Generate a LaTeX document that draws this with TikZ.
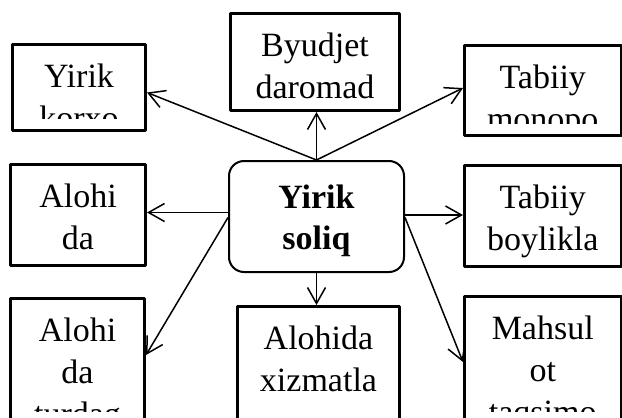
\documentclass[tikz,border=0pt]{standalone}
\usepackage{fontspec}
\setmainfont{Liberation Serif}
\usetikzlibrary{arrows.meta}
\tikzset{
	box/.style={draw, line width=3pt, inner sep=0pt},
	mainbox/.style={draw, line width=2pt, rounded corners=15pt, align=center, inner sep=0pt, font=\fontsize{34}{41}\selectfont\bfseries},
	% text that runs past the bottom of its box is cut off
	cut inset/.store in=\cutinset, cut inset=12.5pt,
	cut/.style={path picture={
		\clip ([yshift=\cutinset]path picture bounding box.south west) rectangle (path picture bounding box.north east);
		\foreach \t [count=\i] in {#1}
		\node[anchor=base, inner sep=0pt] at ([yshift={-42.5pt-(\i-1)*42pt}]path picture bounding box.north) {\t};
	}},
	link/.style={line width=1.5pt, -{Straight Barb[length=16pt,width=18pt,line width=1.5pt]}}
}
\begin{document}
\begin{tikzpicture}[x=1pt, y=-1pt, line join=round, font=\fontsize{34}{42}\selectfont]
	\useasboundingbox (0,0) rectangle (622,418);
	% markaz
	\node[mainbox, minimum width=175pt, minimum height=111pt] (soliq) at (316.5,216.5) {\rule{0pt}{33pt}Yirik\\soliq};
	% yuqori qator
	\node[box, cut={Yirik,korxo}, minimum width=133pt, minimum height=86pt] (korxo) at (79,87.5) {};
	\node[box, cut={Byudjet,daromad}, minimum width=169pt, minimum height=97pt] (budjet) at (315,62) {};
	\node[box, cut={Tabiiy,monopo}, minimum width=156.5pt, minimum height=90pt] (monopo) at (542.75,90.5) {};
	% o'rta qator
	\node[box, cut inset=0pt, cut={Alohi,da}, minimum width=135pt, minimum height=101pt] (alohida) at (78,215) {};
	\node[box, cut inset=0pt, cut={Tabiiy,boylikla}, minimum width=156.5pt, minimum height=101pt] (boylik) at (542.75,216) {};
	% pastki qator
	\node[box, cut={Alohi,da,turdag}, minimum width=134pt, minimum height=125pt] (turdag) at (77.5,361) {};
	\node[box, cut={Alohida,xizmatla}, minimum width=162pt, minimum height=117pt] (xizmat) at (318.5,365) {};
	\node[box, cut={Mahsul,ot,taqsimo}, minimum width=156.5pt, minimum height=127pt] (mahsul) at (542.75,360) {};
	% strelkalar
	\draw[link] (soliq.north) -- (soliq.north |- budjet.south);
	\draw[link] (soliq.north) -- ([yshift=-5pt]korxo.east);
	\draw[link] (soliq.north) -- ([yshift=2.5pt]monopo.west);
	\draw[link] ([yshift=4pt]soliq.west) -- ([yshift=4pt]soliq.west -| alohida.east);
	\draw[link] ([yshift=-1pt]soliq.west) -- ([yshift=-58pt]turdag.north east);
	\draw[link] (soliq.south) -- (soliq.south |- xizmat.north);
	\draw[link] ([yshift=1.5pt]soliq.east) -- ([yshift=1.5pt]soliq.east -| boylik.west);
	\draw[link] ([yshift=-1pt]soliq.east) -- ([yshift=-67pt]mahsul.north west);
\end{tikzpicture}
\end{document}
